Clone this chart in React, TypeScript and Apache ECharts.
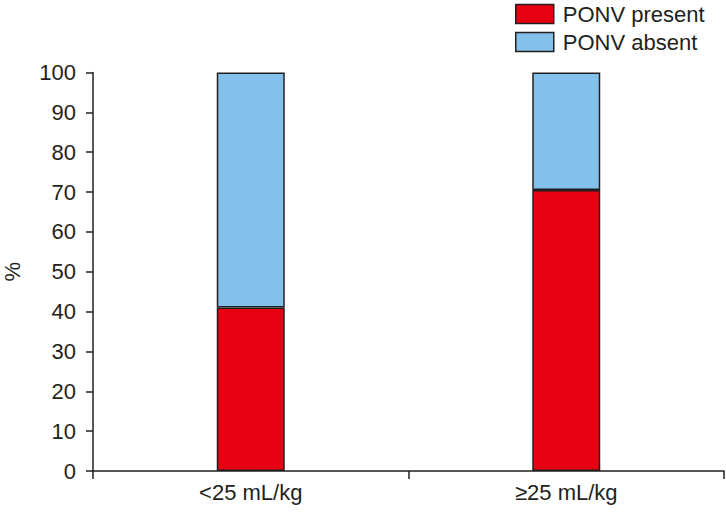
import React, { useEffect, useRef } from "react";
import * as echarts from "echarts";

const categories = ["<25 mL/kg", "≥25 mL/kg"];
const presentValues = [41, 70.5];
const absentValues = [59, 29.5];
const seriesNames = ["PONV present", "PONV absent"];

export default function App() {
  const ref = useRef<HTMLDivElement>(null);
  useEffect(() => {
    const chart = echarts.init(ref.current!, null, { renderer: "svg" });
    const font = "Liberation Sans, Arial, sans-serif";
    const ink = "#231F20";
    chart.setOption({
      animation: false,
      backgroundColor: "#fff",
      textStyle: { fontFamily: font, color: ink },
      grid: { left: 93, right: 2, top: 72.5, bottom: 43, containLabel: false, outerBoundsMode: "none" },
      legend: {
        data: seriesNames,
        orient: "vertical",
        left: 515,
        top: 3,
        itemWidth: 38,
        itemHeight: 19,
        itemGap: 6,
        icon: "rect",
        itemStyle: { borderColor: ink, borderWidth: 1.5 },
        textStyle: { fontFamily: font, fontSize: 22, color: ink, padding: [0, 0, 0, 4] },
        padding: 0,
      },
      xAxis: {
        type: "category",
        data: categories,
        axisLine: { lineStyle: { color: ink, width: 1.5 } },
        axisTick: { show: true, length: 8, lineStyle: { color: ink, width: 1.5 } },
        axisLabel: { fontFamily: font, fontSize: 22, color: ink, margin: 10 },
      },
      yAxis: {
        type: "value",
        min: 0,
        max: 100,
        interval: 10,
        name: "%",
        nameLocation: "middle",
        nameRotate: 90,
        nameGap: 70,
        nameTextStyle: { fontFamily: font, fontSize: 22, color: ink },
        splitLine: { show: false },
        axisLine: { show: true, lineStyle: { color: ink, width: 1.5 } },
        axisTick: { show: true, length: 7, lineStyle: { color: ink, width: 1.5 } },
        axisLabel: { fontFamily: font, fontSize: 22, color: ink, margin: 17 },
      },
      series: [
        {
          name: seriesNames[0],
          type: "bar",
          stack: "total",
          data: presentValues,
          barWidth: 68,
          itemStyle: { color: "#E60012", borderColor: ink, borderWidth: 1.5 },
        },
        {
          name: seriesNames[1],
          type: "bar",
          stack: "total",
          data: absentValues,
          barWidth: 68,
          itemStyle: { color: "#84C1EA", borderColor: ink, borderWidth: 1.5 },
        },
      ],
    });
    return () => chart.dispose();
  }, []);
  return <div ref={ref} style={{ width: 726, height: 514, position: "absolute", left: 0, top: 0 }} />;
}
